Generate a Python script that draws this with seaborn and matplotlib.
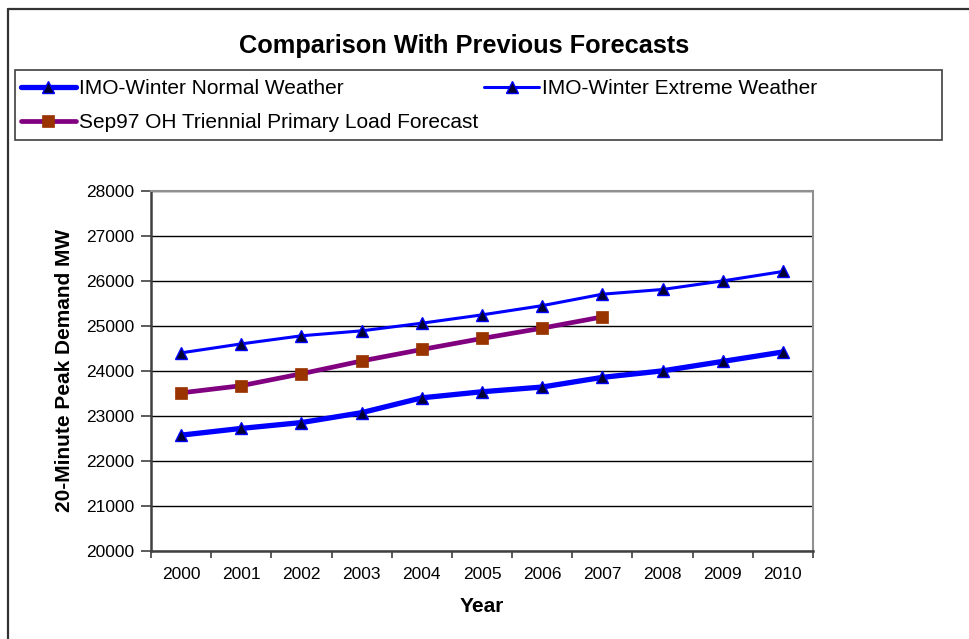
import matplotlib
matplotlib.use("Agg")
import matplotlib.pyplot as plt
from matplotlib.patches import Rectangle
from matplotlib.lines import Line2D
import numpy as np
import pandas as pd
import seaborn as sns

# ---- data ----
years = [2000, 2001, 2002, 2003, 2004, 2005, 2006, 2007, 2008, 2009, 2010]
normal_weather = [22570, 22720, 22850, 23070, 23400, 23535, 23640, 23855, 24000, 24210, 24420]
extreme_weather = [24400, 24600, 24780, 24890, 25060, 25245, 25450, 25705, 25810, 26000, 26210]
sep97_years = [2000, 2001, 2002, 2003, 2004, 2005, 2006, 2007]
sep97_forecast = [23510, 23670, 23935, 24220, 24475, 24720, 24950, 25200]
series_names = ["IMO-Winter Normal Weather", "IMO-Winter Extreme Weather",
                "Sep97 OH Triennial Primary Load Forecast"]
y_ticks = [20000, 21000, 22000, 23000, 24000, 25000, 26000, 27000, 28000]

sns.set_theme(style="white")
plt.rcParams["font.family"] = ["Liberation Sans", "DejaVu Sans"]
plt.rcParams["text.color"] = "black"
plt.rcParams["axes.labelcolor"] = "black"
plt.rcParams["xtick.color"] = "black"
plt.rcParams["ytick.color"] = "black"

W, H = 970, 639
fig = plt.figure(figsize=(W / 100, H / 100), dpi=100)
fig.patch.set_facecolor("white")

def fx(px):
    return px / W

def fy(py):
    return 1 - py / H

left, right, top, bottom = 151, 813, 191, 550.7
ax = fig.add_axes([fx(left), fy(bottom), fx(right - left), (bottom - top) / H])

df_n = pd.DataFrame({"Year": years, "MW": normal_weather})
df_e = pd.DataFrame({"Year": years, "MW": extreme_weather})
df_s = pd.DataFrame({"Year": sep97_years, "MW": sep97_forecast})

sns.lineplot(data=df_n, x="Year", y="MW", ax=ax, color="#0000FF", lw=3.8,
             marker="^", markersize=8.5, markerfacecolor="#000033",
             markeredgecolor="#0000FF", markeredgewidth=1.0,
             label=series_names[0], zorder=3)
sns.lineplot(data=df_e, x="Year", y="MW", ax=ax, color="#0000FF", lw=2.2,
             marker="^", markersize=8.5, markerfacecolor="#000033",
             markeredgecolor="#0000FF", markeredgewidth=1.0,
             label=series_names[1], zorder=3)
sns.lineplot(data=df_s, x="Year", y="MW", ax=ax, color="#800080", lw=3.4,
             marker="s", markersize=8.5, markerfacecolor="#993300",
             markeredgecolor="#993300", markeredgewidth=0.5,
             label=series_names[2], zorder=4)

handles, labels = ax.get_legend_handles_labels()
ax.get_legend().remove()

# axes styling
ax.set_xlim(years[0] - 0.5, years[-1] + 0.5)
ax.set_ylim(y_ticks[0], y_ticks[-1])
ax.set_yticks(y_ticks)
ax.set_yticklabels([str(v) for v in y_ticks], fontsize=12.5)
ax.set_xticks([y - 0.5 for y in years] + [years[-1] + 0.5])
ax.set_xticklabels([])
ax.set_xticks(years, minor=True)
ax.set_xticklabels([str(y) for y in years], minor=True, fontsize=12.5)
ax.tick_params(axis="x", which="major", direction="out", length=5, width=1.2,
               color="#404040", bottom=True)
ax.tick_params(axis="x", which="minor", length=0, pad=11.5)
ax.tick_params(axis="y", which="major", direction="out", length=7, width=1.2,
               color="#404040", left=True, pad=5)
ax.grid(axis="y", color="#000000", lw=1.0)
ax.grid(axis="x", visible=False)
ax.set_axisbelow(True)
for side in ["left", "bottom"]:
    ax.spines[side].set_color("#404040")
    ax.spines[side].set_linewidth(1.8)
for side in ["top", "right"]:
    ax.spines[side].set_color("#909090")
    ax.spines[side].set_linewidth(1.5)

ax.set_xlabel("Year", fontsize=15, fontweight="bold", labelpad=11)
ax.set_ylabel("20-Minute Peak Demand MW", fontsize=15, fontweight="bold", labelpad=9)

# title
fig.text(fx(464.5), fy(46.5), "Comparison With Previous Forecasts", fontsize=18.3,
         fontweight="bold", ha="center", va="center")

# outer chart frame (cropped on right and bottom)
fig.add_artist(Line2D([fx(8.5), 1.0], [fy(9), fy(9)], color="#333333", lw=1.6))
fig.add_artist(Line2D([fx(8.5), fx(8.5)], [0.0, fy(9)], color="#333333", lw=1.6))

# legend box
fig.add_artist(Rectangle((fx(14.7), fy(140)), fx(941.7 - 14.7), (140 - 69.7) / H,
                         fill=False, edgecolor="#404040", lw=1.2))
order = [0, 2, 1]
fig.legend([handles[i] for i in order], [labels[i] for i in order],
           loc="upper left", bbox_to_anchor=(fx(20.7), fy(79)),
           ncol=2, frameon=False, fontsize=15, borderpad=0, borderaxespad=0,
           handlelength=2.65, handletextpad=0.15, columnspacing=0.28,
           labelspacing=0.71)

fig.savefig("out.png", dpi=100, facecolor="white")
